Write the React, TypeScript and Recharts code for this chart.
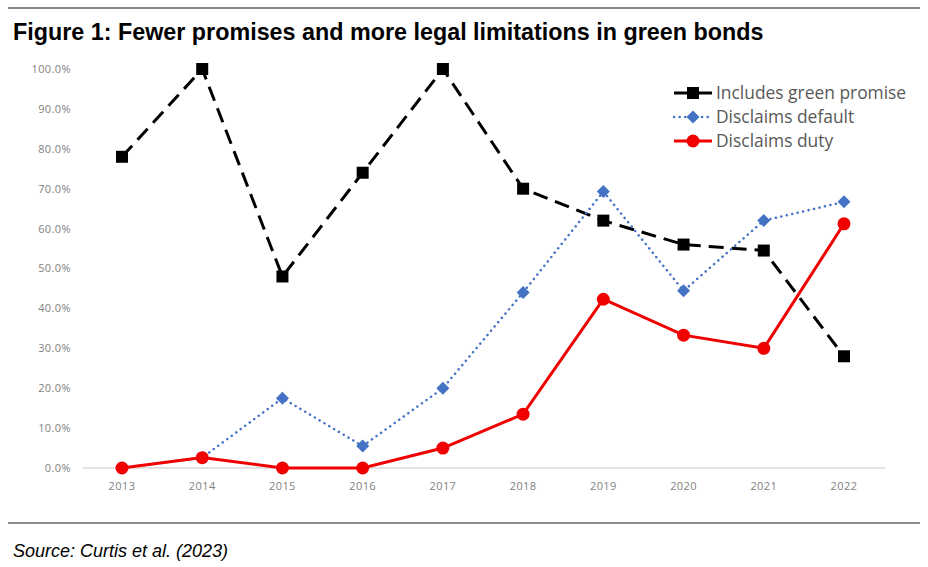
import React from "react";
import { LineChart, Line, XAxis, YAxis, CartesianGrid } from "recharts";

const years = ["2013", "2014", "2015", "2016", "2017", "2018", "2019", "2020", "2021", "2022"];
const greenPromise = [0.78, 1.0, 0.48, 0.74, 1.0, 0.70, 0.62, 0.56, 0.545, 0.28];
const disclaimsDefault = [0.0, 0.026, 0.175, 0.055, 0.20, 0.44, 0.693, 0.444, 0.62, 0.667];
const disclaimsDuty = [0.0, 0.026, 0.0, 0.0, 0.05, 0.135, 0.423, 0.333, 0.30, 0.612];
const yTicks = [0, 0.1, 0.2, 0.3, 0.4, 0.5, 0.6, 0.7, 0.8, 0.9, 1.0];

const seriesNames = ["Includes green promise", "Disclaims default", "Disclaims duty"];

const data = years.map((y, i) => ({
  year: y,
  promise: greenPromise[i],
  def: disclaimsDefault[i],
  duty: disclaimsDuty[i],
}));

const BLUE = "#4472C4";
const RED = "#F00000";

const Square = (props: any) => {
  const { cx, cy } = props;
  if (cx == null || cy == null) return null;
  return <rect x={cx - 6} y={cy - 6} width={12} height={12} fill="#000" />;
};
const Diamond = (props: any) => {
  const { cx, cy } = props;
  if (cx == null || cy == null) return null;
  const r = 6.5;
  return <polygon points={`${cx},${cy - r} ${cx + r},${cy} ${cx},${cy + r} ${cx - r},${cy}`} fill={BLUE} />;
};
const Dot = (props: any) => {
  const { cx, cy } = props;
  if (cx == null || cy == null) return null;
  return <circle cx={cx} cy={cy} r={6.5} fill={RED} />;
};

const fmt = (v: number) => `${(v * 100).toFixed(1)}%`;

const tickStyle = {
  fill: "#7f7f7f",
  fontSize: 11,
  letterSpacing: 0.4,
  fontFamily: "'Open Sans', 'Liberation Sans', sans-serif",
};

export default function App() {
  const legendText: React.CSSProperties = {
    position: "absolute",
    left: 716,
    fontFamily: "'Open Sans', 'Liberation Sans', sans-serif",
    fontSize: 17.4,
    color: "#595959",
    lineHeight: "20px",
    whiteSpace: "nowrap",
  };
  return (
    <div style={{ position: "absolute", left: 0, top: 0, width: 928, height: 567, background: "#fff", overflow: "hidden" }}>
      <div style={{ position: "absolute", left: 8, top: 7, width: 912, height: 2, background: "#8a8a8a" }} />
      <div
        style={{
          position: "absolute",
          left: 13,
          top: 19,
          fontFamily: "'Liberation Sans', Arial, sans-serif",
          fontWeight: "bold",
          fontSize: 23,
          color: "#000",
          whiteSpace: "nowrap",
          lineHeight: "26px",
          transform: "scaleX(1.014)",
          transformOrigin: "left center",
        }}
      >
        Figure 1: Fewer promises and more legal limitations in green bonds
      </div>
      <div style={{ position: "absolute", left: 8, top: 522, width: 912, height: 2, background: "#8a8a8a" }} />
      <div
        style={{
          position: "absolute",
          left: 13,
          top: 540,
          fontFamily: "'Liberation Sans', Arial, sans-serif",
          fontStyle: "italic",
          fontSize: 18,
          color: "#000",
          whiteSpace: "nowrap",
          lineHeight: "22px",
        }}
      >
        Source: Curtis et al. (2023)
      </div>
      <div style={{ position: "absolute", left: 0, top: 0 }}>
        <LineChart width={928} height={567} data={data} margin={{ top: 69, right: 43, bottom: 69, left: 23 }}>
          <CartesianGrid vertical={false} horizontalValues={[0]} stroke="#d9d9d9" strokeWidth={1.5} />
          <XAxis
            dataKey="year"
            padding={{ left: 39, right: 41 }}
            axisLine={false}
            tickLine={false}
            tickSize={6}
            tickMargin={8}
            height={30}
            tick={tickStyle}
          />
          <YAxis
            domain={[0, 1]}
            ticks={yTicks}
            tickFormatter={fmt}
            width={60}
            axisLine={false}
            tickLine={false}
            tickSize={6}
            tickMargin={6}
            tick={tickStyle}
            interval={0}
          />
          <Line
            dataKey="promise"
            name={seriesNames[0]}
            stroke="#000"
            strokeWidth={3}
            strokeDasharray="15 8"
            dot={<Square />}
            activeDot={false}
            isAnimationActive={false}
          />
          <Line
            dataKey="def"
            name={seriesNames[1]}
            stroke={BLUE}
            strokeWidth={2.5}
            strokeDasharray="0.1 5.5"
            strokeLinecap="round"
            dot={<Diamond />}
            activeDot={false}
            isAnimationActive={false}
          />
          <Line
            dataKey="duty"
            name={seriesNames[2]}
            stroke={RED}
            strokeWidth={3}
            dot={<Dot />}
            activeDot={false}
            isAnimationActive={false}
          />
        </LineChart>
      </div>
      <svg style={{ position: "absolute", left: 0, top: 0 }} width={928} height={567} pointerEvents="none">
        <line x1={674} x2={712} y1={93} y2={93} stroke="#000" strokeWidth={3} strokeDasharray="15 8" />
        <rect x={687} y={87} width={12} height={12} fill="#000" />
        <line x1={674} x2={712} y1={117} y2={117} stroke={BLUE} strokeWidth={2.5} strokeDasharray="0.1 5.5" strokeLinecap="round" />
        <polygon points="693,110.5 699.5,117 693,123.5 686.5,117" fill={BLUE} />
        <line x1={674} x2={712} y1={141} y2={141} stroke={RED} strokeWidth={3} />
        <circle cx={693} cy={141} r={6.5} fill={RED} />
      </svg>
      <div style={{ ...legendText, top: 82 }}>{seriesNames[0]}</div>
      <div style={{ ...legendText, top: 106 }}>{seriesNames[1]}</div>
      <div style={{ ...legendText, top: 130 }}>{seriesNames[2]}</div>
    </div>
  );
}
